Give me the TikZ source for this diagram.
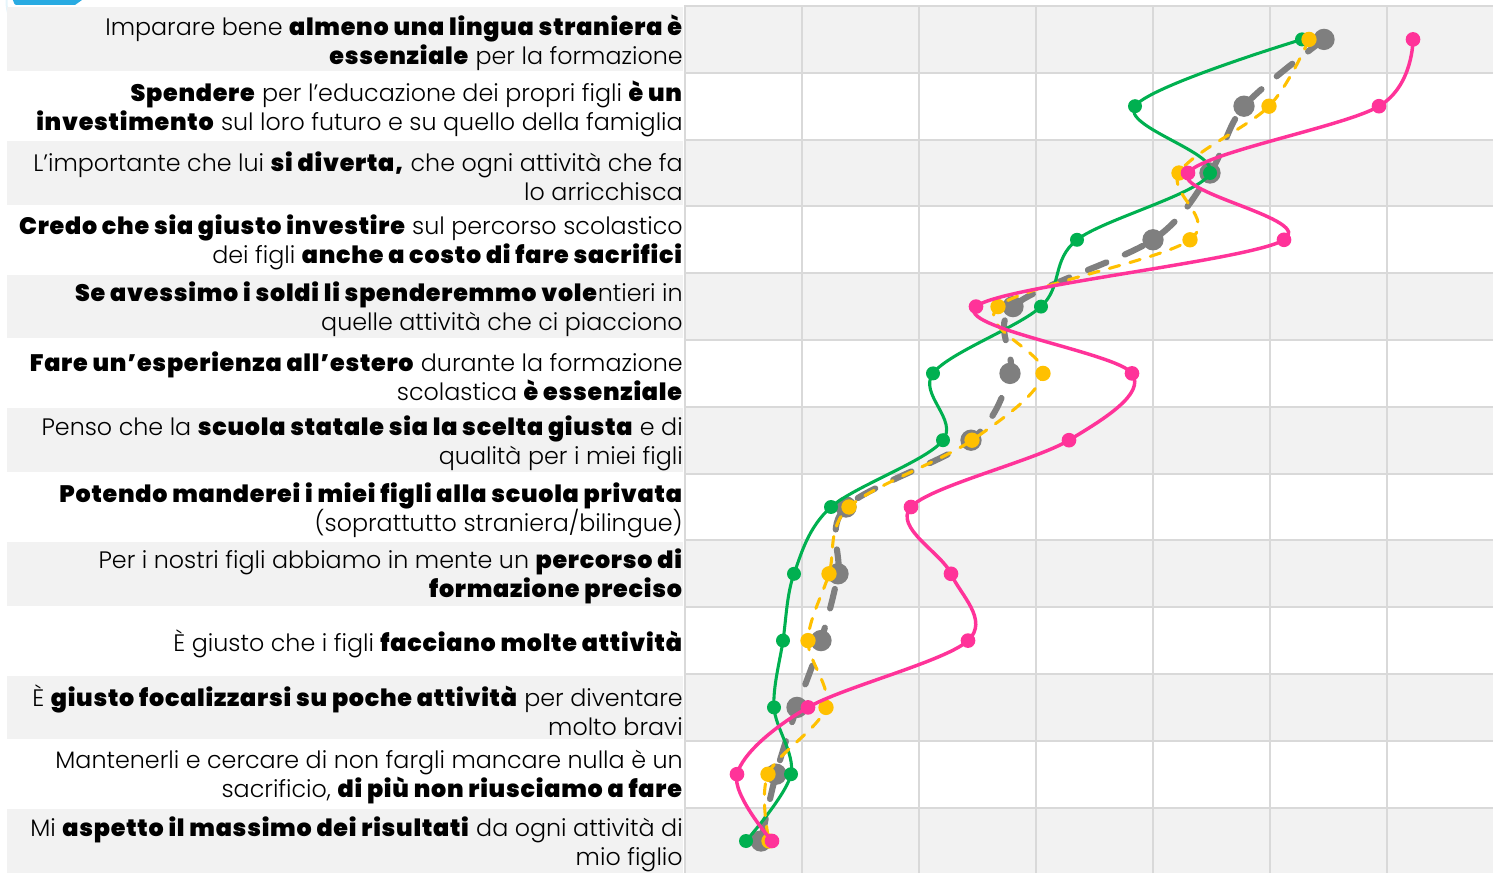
\documentclass[tikz,border=0pt]{standalone}
\usepackage{fontspec}
\setmainfont{Poppins}[UprightFont={* Light},BoldFont={* Black},BoldFeatures={LetterSpace=3.2}]
\definecolor{bandgray}{HTML}{F2F2F2}
\definecolor{gridgray}{HTML}{D9D9D9}
\definecolor{sgreen}{HTML}{00B050}
\definecolor{spink}{HTML}{FF3399}
\definecolor{sgray}{HTML}{7F7F7F}
\definecolor{syellow}{HTML}{FFC000}
\definecolor{tabblue}{HTML}{29ABE2}
\tikzset{
  lbl/.style={anchor=east,align=right,inner sep=0pt,text=black,yshift=-2.25pt,
    font=\fontsize{17.85}{21.75}\selectfont},
  grayline/.style={draw=sgray,line width=4.6pt,line cap=round,dash pattern=on 15pt off 15pt},
  yellowline/.style={draw=syellow,line width=2.3pt,line cap=round,dash pattern=on 8pt off 8pt},
  greenline/.style={draw=sgreen,line width=2.3pt},
  pinkline/.style={draw=spink,line width=2.6pt},
  graymark/.style={circle,fill=sgray,inner sep=0pt,minimum size=16pt},
  yellowmark/.style={circle,fill=syellow,inner sep=0pt,minimum size=11.5pt},
  greenmark/.style={circle,fill=sgreen,inner sep=0pt,minimum size=10.5pt},
  pinkmark/.style={circle,fill=spink,inner sep=0pt,minimum size=11pt},
}
\begin{document}
\begin{tikzpicture}[x=0.75pt,y=-0.75pt]
\useasboundingbox (0,0) rectangle (1493,873);
% top-left decorations
\fill[tabblue] (12,0) -- (82,0) -- (75,5) -- (16,5) to[out=180,in=60] (12,0) -- cycle;
\draw[tabblue!12,line width=1.5pt] (9,16) arc[start angle=160,end angle=200,radius=40];
% bands
\foreach \i in {1,3,...,13}{
  \pgfmathsetmacro\t{6+66.8*(\i-1)}
  \pgfmathsetmacro\b{6+66.8*\i}
  \fill[bandgray] (7,\t+1.5) rectangle (683,\b-1.5);
  \fill[bandgray] (686,\t) rectangle (1493,\b);
}
% grid
\foreach \i in {0,...,12}{
  \pgfmathsetmacro\t{6+66.8*\i}
  \draw[gridgray,line width=1.5pt] (686,\t) -- (1493,\t);
}
\foreach \k in {1,...,6}{
  \draw[gridgray,line width=1.5pt] (685+117*\k,6) -- (685+117*\k,873);
}
\draw[gridgray,line width=2pt] (685,5) -- (685,873);
% labels
\node[lbl] (l1) at (683,{6+66.8*0.5}) {Imparare bene \textbf{almeno una lingua straniera è}\\\textbf{essenziale} per la formazione};
\node[lbl] (l2) at (683,{6+66.8*1.5}) {\textbf{Spendere} per l’educazione dei propri figli \textbf{è un}\\\textbf{investimento} sul loro futuro e su quello della famiglia};
\node[lbl] (l3) at (683,{6+66.8*2.5}) {L’importante che lui \textbf{si diverta,} che ogni attività che fa\\lo arricchisca};
\node[lbl] (l4) at (683,{6+66.8*3.5}) {\textbf{Credo che sia giusto investire} sul percorso scolastico\\dei figli \textbf{anche a costo di fare sacrifici}};
\node[lbl] (l5) at (683,{6+66.8*4.5}) {\textbf{Se avessimo i soldi li spenderemmo vole}ntieri in\\quelle attività che ci piacciono};
\node[lbl] (l6) at (683,{6+66.8*5.5}) {\textbf{Fare un’esperienza all’estero} durante la formazione\\scolastica \textbf{è essenziale}};
\node[lbl] (l7) at (683,{6+66.8*6.5}) {Penso che la \textbf{scuola statale sia la scelta giusta} e di\\qualità per i miei figli};
\node[lbl] (l8) at (683,{6+66.8*7.5}) {\textbf{Potendo manderei i miei figli alla scuola privata}\\(soprattutto straniera/bilingue)};
\node[lbl] (l9) at (683,{6+66.8*8.5}) {Per i nostri figli abbiamo in mente un \textbf{percorso di}\\\textbf{formazione preciso}};
\node[lbl] (l10) at (683,{6+66.8*9.5}) {È giusto che i figli \textbf{facciano molte attività}};
\node[lbl] (l11) at (683,{6+66.8*10.5}) {È \textbf{giusto focalizzarsi su poche attività} per diventare\\molto bravi};
\node[lbl] (l12) at (683,{6+66.8*11.5}) {Mantenerli e cercare di non fargli mancare nulla è un\\sacrificio, \textbf{di più non riusciamo a fare}};
\node[lbl] (l13) at (683,{6+66.8*12.5}) {Mi \textbf{aspetto il massimo dei risultati} da ogni attività di\\mio figlio};
% data coordinates
\foreach \xx [count=\i] in {1324,1244,1210,1153,1013,1010,971,846,838,821,797,776,761}
  \coordinate (G\i) at (\xx,{6+66.8*(\i-0.5)});
\foreach \xx [count=\i] in {1309,1269,1179,1190,998,1043,972,849,829,808,826,768,769}
  \coordinate (Y\i) at (\xx,{6+66.8*(\i-0.5)});
\foreach \xx [count=\i] in {1302,1135,1210,1077,1041,933,943,831,794,783,774,791,746}
  \coordinate (N\i) at (\xx,{6+66.8*(\i-0.5)});
\foreach \xx [count=\i] in {1413,1379,1188,1284,976,1132,1069,911,951,968,808,737,772}
  \coordinate (P\i) at (\xx,{6+66.8*(\i-0.5)});
% gray series
\draw[grayline] plot[smooth,tension=0.55] coordinates {(G1)(G2)(G3)(G4)(G5)(G6)(G7)(G8)(G9)(G10)(G11)(G12)(G13)};
\foreach \i in {1,...,13} \node[graymark] (gm\i) at (G\i) {};
% green series
\draw[greenline] plot[smooth,tension=0.55] coordinates {(N1)(N2)(N3)(N4)(N5)(N6)(N7)(N8)(N9)(N10)(N11)(N12)(N13)};
\foreach \i in {1,...,13} \node[greenmark] (nm\i) at (N\i) {};
% yellow series
\draw[yellowline] plot[smooth,tension=0.55] coordinates {(Y1)(Y2)(Y3)(Y4)(Y5)(Y6)(Y7)(Y8)(Y9)(Y10)(Y11)(Y12)(Y13)};
\foreach \i in {1,...,13} \node[yellowmark] (ym\i) at (Y\i) {};
% pink series
\draw[pinkline] plot[smooth,tension=0.55] coordinates {(P1)(P2)(P3)(P4)(P5)(P6)(P7)(P8)(P9)(P10)(P11)(P12)(P13)};
\foreach \i in {1,...,13} \node[pinkmark] (pm\i) at (P\i) {};
\end{tikzpicture}
\end{document}
